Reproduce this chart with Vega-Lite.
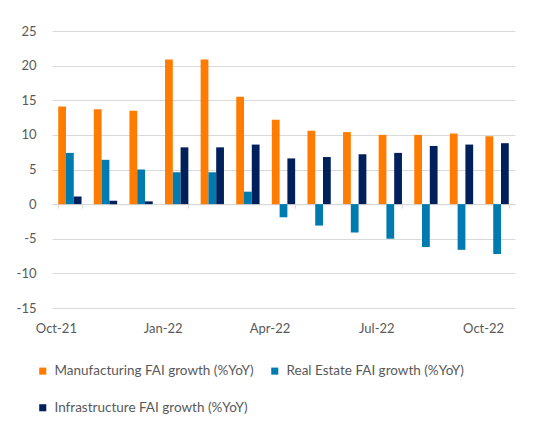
{
  "$schema": "https://vega.github.io/schema/vega-lite/v6.json",
  "width": 463,
  "height": 277,
  "autosize": {"type": "none"},
  "padding": {"left": 52, "top": 31, "right": 35, "bottom": 125},
  "background": "white",
  "data": {
    "values": [
      {"month": "Oct-21", "series": "Manufacturing FAI growth (%YoY)", "value": 14.1},
      {"month": "Oct-21", "series": "Real Estate FAI growth (%YoY)", "value": 7.4},
      {"month": "Oct-21", "series": "Infrastructure FAI growth (%YoY)", "value": 1.1},
      {"month": "Nov-21", "series": "Manufacturing FAI growth (%YoY)", "value": 13.7},
      {"month": "Nov-21", "series": "Real Estate FAI growth (%YoY)", "value": 6.4},
      {"month": "Nov-21", "series": "Infrastructure FAI growth (%YoY)", "value": 0.5},
      {"month": "Dec-21", "series": "Manufacturing FAI growth (%YoY)", "value": 13.5},
      {"month": "Dec-21", "series": "Real Estate FAI growth (%YoY)", "value": 5.0},
      {"month": "Dec-21", "series": "Infrastructure FAI growth (%YoY)", "value": 0.4},
      {"month": "Jan-22", "series": "Manufacturing FAI growth (%YoY)", "value": 20.9},
      {"month": "Jan-22", "series": "Real Estate FAI growth (%YoY)", "value": 4.6},
      {"month": "Jan-22", "series": "Infrastructure FAI growth (%YoY)", "value": 8.2},
      {"month": "Feb-22", "series": "Manufacturing FAI growth (%YoY)", "value": 20.9},
      {"month": "Feb-22", "series": "Real Estate FAI growth (%YoY)", "value": 4.6},
      {"month": "Feb-22", "series": "Infrastructure FAI growth (%YoY)", "value": 8.2},
      {"month": "Mar-22", "series": "Manufacturing FAI growth (%YoY)", "value": 15.5},
      {"month": "Mar-22", "series": "Real Estate FAI growth (%YoY)", "value": 1.8},
      {"month": "Mar-22", "series": "Infrastructure FAI growth (%YoY)", "value": 8.6},
      {"month": "Apr-22", "series": "Manufacturing FAI growth (%YoY)", "value": 12.2},
      {"month": "Apr-22", "series": "Real Estate FAI growth (%YoY)", "value": -1.9},
      {"month": "Apr-22", "series": "Infrastructure FAI growth (%YoY)", "value": 6.6},
      {"month": "May-22", "series": "Manufacturing FAI growth (%YoY)", "value": 10.6},
      {"month": "May-22", "series": "Real Estate FAI growth (%YoY)", "value": -3.1},
      {"month": "May-22", "series": "Infrastructure FAI growth (%YoY)", "value": 6.8},
      {"month": "Jun-22", "series": "Manufacturing FAI growth (%YoY)", "value": 10.4},
      {"month": "Jun-22", "series": "Real Estate FAI growth (%YoY)", "value": -4.1},
      {"month": "Jun-22", "series": "Infrastructure FAI growth (%YoY)", "value": 7.2},
      {"month": "Jul-22", "series": "Manufacturing FAI growth (%YoY)", "value": 10.0},
      {"month": "Jul-22", "series": "Real Estate FAI growth (%YoY)", "value": -5.0},
      {"month": "Jul-22", "series": "Infrastructure FAI growth (%YoY)", "value": 7.4},
      {"month": "Aug-22", "series": "Manufacturing FAI growth (%YoY)", "value": 10.0},
      {"month": "Aug-22", "series": "Real Estate FAI growth (%YoY)", "value": -6.2},
      {"month": "Aug-22", "series": "Infrastructure FAI growth (%YoY)", "value": 8.4},
      {"month": "Sep-22", "series": "Manufacturing FAI growth (%YoY)", "value": 10.2},
      {"month": "Sep-22", "series": "Real Estate FAI growth (%YoY)", "value": -6.6},
      {"month": "Sep-22", "series": "Infrastructure FAI growth (%YoY)", "value": 8.6},
      {"month": "Oct-22", "series": "Manufacturing FAI growth (%YoY)", "value": 9.8},
      {"month": "Oct-22", "series": "Real Estate FAI growth (%YoY)", "value": -7.2},
      {"month": "Oct-22", "series": "Infrastructure FAI growth (%YoY)", "value": 8.8}
    ]
  },
  "mark": "bar",
  "encoding": {
    "x": {
      "field": "month",
      "type": "nominal",
      "sort": null,
      "title": null,
      "scale": {"paddingInner": 0.345, "paddingOuter": 0.175},
      "axis": {
        "values": ["Oct-21", "Jan-22", "Apr-22", "Jul-22", "Oct-22"],
        "labelAngle": 0,
        "offset": -103.875,
        "tickBand": "extent",
        "tickSize": 4,
        "tickColor": "#D9D9D9",
        "domainColor": "#D9D9D9",
        "domainWidth": 1.2,
        "labelPadding": 114,
        "labelOffset": -14
      }
    },
    "xOffset": {
      "field": "series",
      "type": "nominal",
      "sort": ["Manufacturing FAI growth (%YoY)", "Real Estate FAI growth (%YoY)", "Infrastructure FAI growth (%YoY)"],
      "scale": {"paddingInner": 0, "paddingOuter": 0}
    },
    "y": {
      "field": "value",
      "type": "quantitative",
      "title": null,
      "scale": {"domain": [-15, 25], "nice": false},
      "axis": {
        "values": [-15, -10, -5, 0, 5, 10, 15, 20, 25],
        "labelExpr": "'' + datum.value",
        "ticks": false,
        "domain": false,
        "labelPadding": 16,
        "gridColor": "#D9D9D9",
        "gridWidth": 1.2
      }
    },
    "color": {
      "field": "series",
      "type": "nominal",
      "sort": ["Manufacturing FAI growth (%YoY)", "Real Estate FAI growth (%YoY)", "Infrastructure FAI growth (%YoY)"],
      "scale": {"range": ["#FF7C00", "#007BB0", "#00205B"]},
      "legend": {
        "title": null,
        "orient": "none",
        "legendX": -16,
        "legendY": 333,
        "columns": 2,
        "direction": "horizontal",
        "columnPadding": 14,
        "rowPadding": 22,
        "padding": 0,
        "symbolType": "square",
        "symbolSize": 50,
        "symbolStrokeWidth": 0,
        "labelLimit": 0,
        "labelOffset": 5
      }
    }
  },
  "config": {
    "view": {"stroke": null},
    "font": "Lato",
    "axis": {
      "labelFont": "Lato",
      "labelFontSize": 13,
      "labelColor": "#595959",
      "grid": true
    },
    "axisX": {"grid": false},
    "legend": {
      "labelFont": "Lato",
      "labelFontSize": 13.5,
      "labelColor": "#595959"
    }
  }
}
